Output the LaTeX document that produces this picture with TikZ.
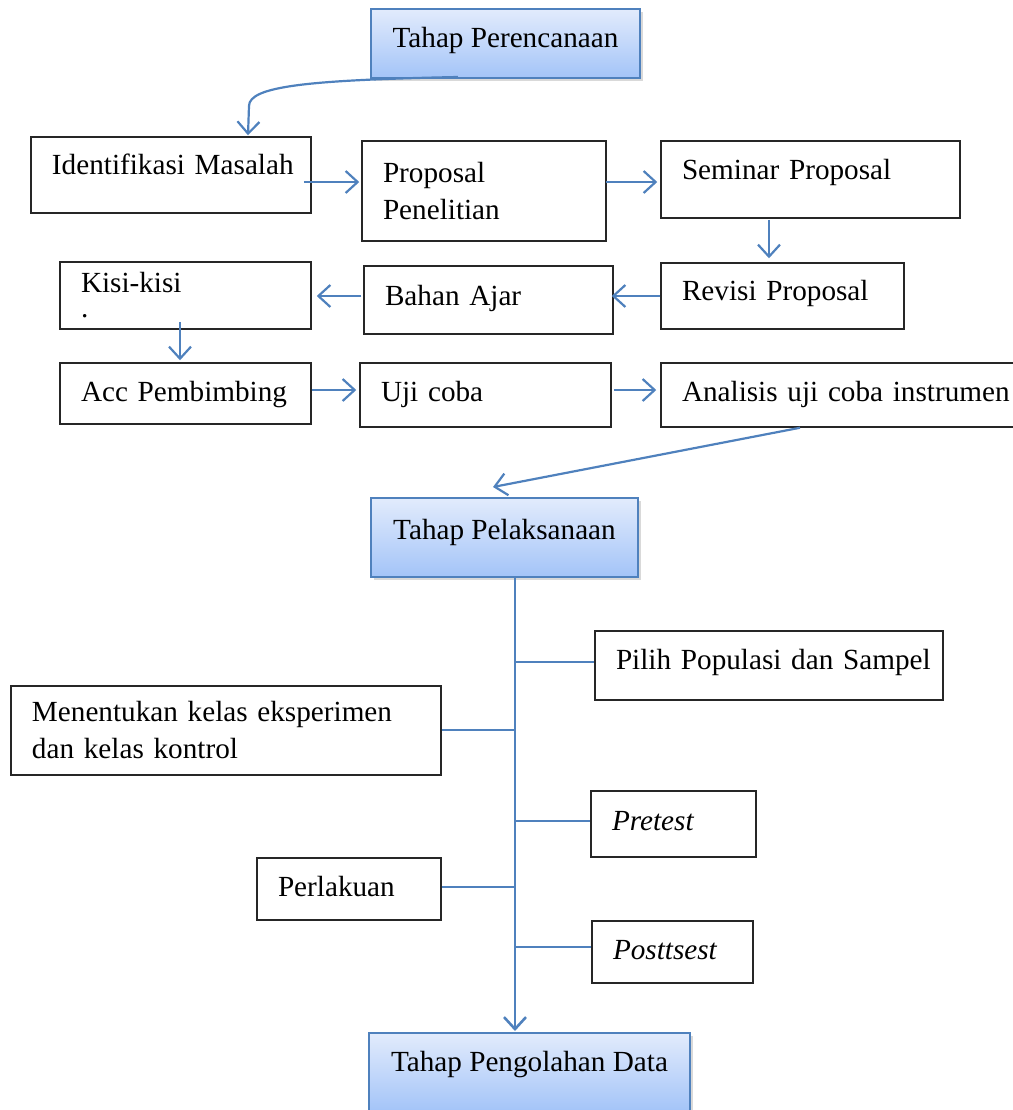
\documentclass[tikz,border=0pt]{standalone}
\usepackage{fontspec}
\setmainfont{Liberation Serif}
\usetikzlibrary{arrows.meta,shadows}
\definecolor{garisbiru}{RGB}{79,129,189}
\definecolor{birumuda}{RGB}{226,235,252}
\definecolor{birutua}{RGB}{163,196,248}

\begin{document}
\begin{tikzpicture}[x=0.5pt, y=-0.5pt,
  font=\fontsize{14.6}{18.5}\selectfont,
  tahap/.style={rectangle, draw=garisbiru, line width=1pt, top color=birumuda, bottom color=birutua,
    drop shadow={opacity=0.3, shadow xshift=1.5pt, shadow yshift=-1.5pt}, align=center, text height=10pt},
  kotak/.style={rectangle, draw=black!85, line width=0.75pt, fill=white, inner xsep=10.5pt, inner ysep=2pt, align=left},
  baris/.style={text height=10pt, text depth=#1, execute at begin node=\hbox\bgroup, execute at end node=\egroup},
  arr/.style={-{Straight Barb[length=6pt, width=11pt]}, garisbiru, line width=1.1pt},
  cabang/.style={garisbiru, line width=0.8pt}]
\useasboundingbox (0,0) rectangle (1013,1110);

% tahap perencanaan
\node[tahap, minimum width=134.5pt, minimum height=34.5pt, text depth=6.5pt] (per) at (505.5,43.5) {Tahap Perencanaan};
\node[kotak, baris=11pt, text width=119pt, minimum height=38pt] (idm) at (171,175) {Identifikasi Masalah};
\node[kotak, text width=101pt, minimum height=50pt] (pp) at (484,191) {Proposal\\Penelitian};
\node[kotak, baris=10.5pt, text width=128.5pt, minimum height=38.5pt] (sp) at (810.5,179.5) {Seminar Proposal};
\node[kotak, baris=6pt, text width=100.5pt, minimum height=33pt] (rp) at (782.5,296) {Revisi Proposal};
\node[kotak, baris=5pt, text width=103.5pt, minimum height=34pt] (ba) at (488.5,300) {Bahan Ajar};
\node[kotak, text width=104.5pt, minimum height=33.5pt] (kk) at (185.5,295.5) {Kisi-kisi\\[-6pt].};
\node[kotak, baris=2.5pt, text width=104.5pt, minimum height=30.5pt] (acc) at (185.5,393.5) {Acc Pembimbing};
\node[kotak, baris=4pt, text width=104.5pt, minimum height=32pt] (uc) at (485.5,395) {Uji coba};
\node[kotak, baris=4pt, text width=164pt, minimum height=32pt] (an) at (846,395) {Analisis uji coba instrumen};

\draw[arr] ([xshift=-23.75pt,yshift=1pt]per.south) .. controls (310,80) and (249,86) .. (249,106) -- ([xshift=38.5pt,yshift=0.5pt]idm.north);
\draw[arr] ([xshift=-4pt,yshift=-3.5pt]idm.east) -- ([xshift=-1pt,yshift=4.5pt]pp.west);
\draw[arr] ([xshift=-0.5pt,yshift=4.5pt]pp.east) -- ([xshift=-1.5pt,yshift=-1.25pt]sp.west);
\draw[arr] ([xshift=-20.75pt,yshift=-0.5pt]sp.south) -- ([xshift=-6.75pt,yshift=2pt]rp.north);
\draw[arr] (rp.west) -- ([xshift=-1pt,yshift=2pt]ba.east);
\draw[arr] ([xshift=-1pt,yshift=2pt]ba.west) -- ([xshift=2.5pt,yshift=-0.25pt]kk.east);
\draw[arr] ([xshift=-2.75pt,yshift=4pt]kk.south) -- ([xshift=-2.75pt,yshift=1pt]acc.north);
\draw[arr] ([yshift=1.75pt]acc.east) -- ([xshift=-1.5pt,yshift=2.5pt]uc.west);
\draw[arr] ([xshift=1pt,yshift=2.5pt]uc.east) -- ([xshift=-2pt,yshift=2.5pt]an.west);

% tahap pelaksanaan
\node[tahap, minimum width=133.5pt, minimum height=39.5pt, text depth=8.5pt] (pel) at (504.5,537.5) {Tahap Pelaksanaan};
\draw[arr] ([xshift=-23pt]an.south) -- ([xshift=-5.75pt,yshift=5pt]pel.north);

\node[kotak, baris=6.5pt, text width=153pt, minimum height=34.5pt] (pps) at (769,665.5) {Pilih Populasi dan Sampel};
\node[kotak, text width=194pt, minimum height=44.5pt] (mk) at (226,730.5) {Menentukan kelas eksperimen\\dan kelas kontrol};
\node[kotak, baris=4pt, text width=61.5pt, minimum height=33pt] (pre) at (673.5,824) {\textit{Pretest}};
\node[kotak, baris=3pt, text width=71pt, minimum height=31pt] (prl) at (349,889) {Perlakuan};
\node[kotak, baris=3pt, text width=59.5pt, minimum height=31pt] (pos) at (672.5,952) {\textit{Posttsest}};

% tahap pengolahan data
\node[tahap, minimum width=160.5pt, minimum height=39.5pt, text depth=11.5pt] (pd) at (529.5,1072.5) {Tahap Pengolahan Data};
\draw[arr, line width=1.3pt] ([xshift=5.25pt]pel.south) -- ([xshift=-7.25pt,yshift=0.5pt]pd.north);

\coordinate (b1) at (515,662);
\coordinate (b2) at (515,730);
\coordinate (b3) at (515,821);
\coordinate (b4) at (515,887);
\coordinate (b5) at (515,947);
\draw[cabang] (b1) -- (b1 -| pps.west);
\draw[cabang] (b2) -- (b2 -| mk.east);
\draw[cabang] (b3) -- (b3 -| pre.west);
\draw[cabang] (b4) -- (b4 -| prl.east);
\draw[cabang] (b5) -- (b5 -| pos.west);
\end{tikzpicture}
\end{document}
